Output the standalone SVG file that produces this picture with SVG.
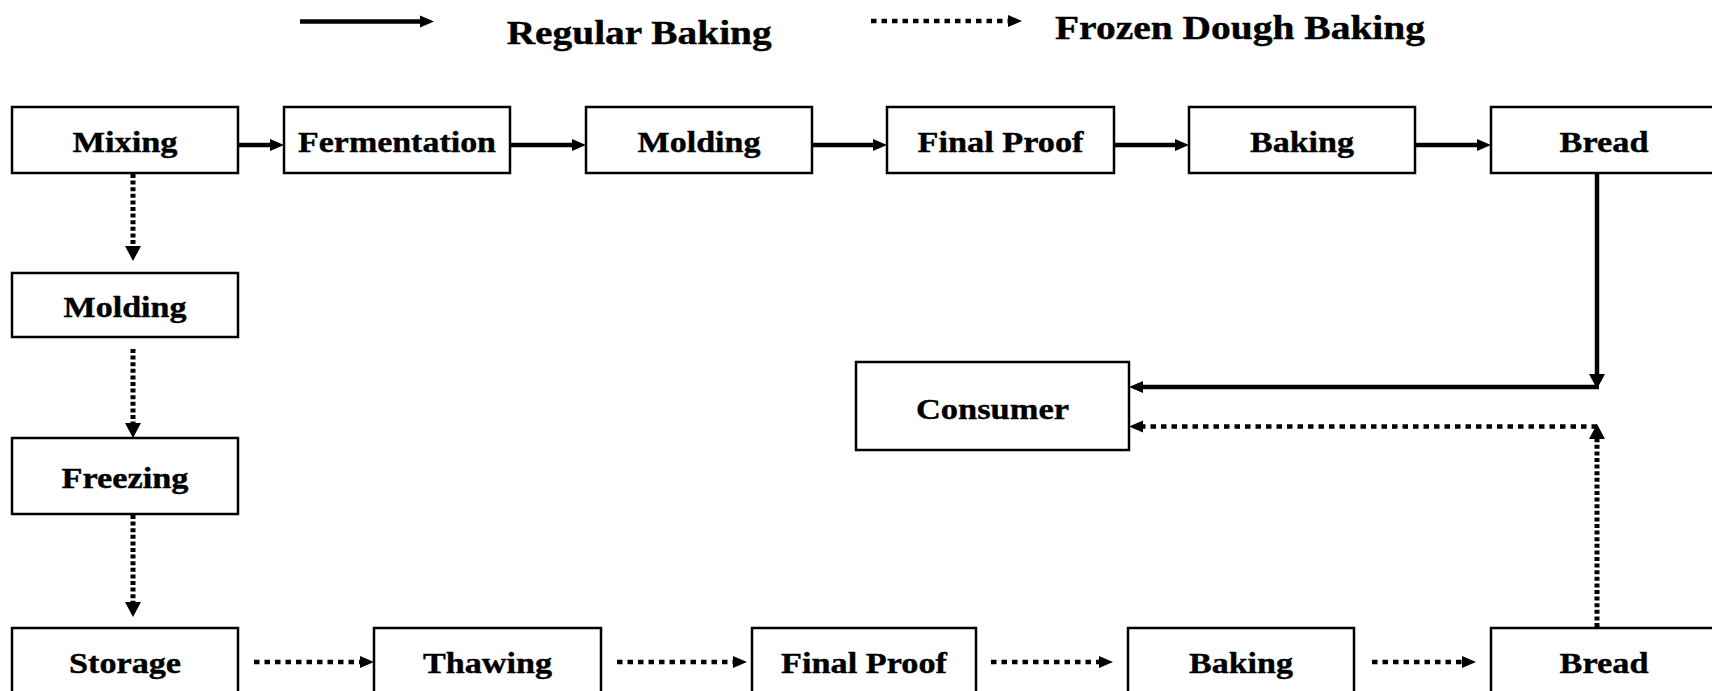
<svg xmlns="http://www.w3.org/2000/svg" width="1712" height="691" viewBox="0 0 1712 691">
  <defs>
    <style>
      .box { fill: #ffffff; stroke: #000000; stroke-width: 2.5; }
      .lbl { font-family: "Liberation Serif", "Times New Roman", serif; font-weight: bold; font-size: 30px; fill: #000000; stroke: #000000; stroke-width: 0.4; text-anchor: middle; }
      .leg { font-family: "Liberation Serif", "Times New Roman", serif; font-weight: bold; font-size: 33px; fill: #000000; stroke: #000000; stroke-width: 0.4; }
      .solid { fill: none; stroke: #000000; stroke-width: 4.5; }
      .doth { fill: none; stroke: #000000; stroke-width: 4.5; stroke-dasharray: 5.5 5; }
      .dotv { fill: none; stroke: #000000; stroke-width: 5; stroke-dasharray: 4 2.6; }
    </style>
    <marker id="ah" markerUnits="userSpaceOnUse" viewBox="0 -9 16 18" markerWidth="16" markerHeight="18" refX="0" refY="0" orient="auto">
      <path d="M0,-6 L14,0 L0,6 z" fill="#000000"/>
    </marker>
    <marker id="av" markerUnits="userSpaceOnUse" viewBox="0 -9 16 18" markerWidth="16" markerHeight="18" refX="0" refY="0" orient="auto">
      <path d="M0,-8 L15,0 L0,8 z" fill="#000000"/>
    </marker>
  </defs>

  <rect width="1712" height="691" fill="#ffffff"/>

  <!-- legend -->
  <g id="legend">
    <line class="solid" x1="300" y1="21.5" x2="420" y2="21.5" marker-end="url(#ah)"/>
    <text class="leg" x="506.7" y="43.5" textLength="265" lengthAdjust="spacingAndGlyphs">Regular Baking</text>
    <line class="doth" x1="871" y1="21" x2="1008" y2="21" marker-end="url(#ah)"/>
    <text class="leg" x="1055" y="39" textLength="370" lengthAdjust="spacingAndGlyphs">Frozen Dough Baking</text>
  </g>

  <!-- connectors -->
  <g id="connectors">
    <!-- regular baking line -->
    <line class="solid" x1="238" y1="145" x2="270" y2="145" marker-end="url(#ah)"/>
    <line class="solid" x1="510" y1="145" x2="572" y2="145" marker-end="url(#ah)"/>
    <line class="solid" x1="812" y1="145" x2="873" y2="145" marker-end="url(#ah)"/>
    <line class="solid" x1="1114" y1="145" x2="1175" y2="145" marker-end="url(#ah)"/>
    <line class="solid" x1="1415" y1="145" x2="1477" y2="145" marker-end="url(#ah)"/>
    <line class="solid" x1="1597" y1="173" x2="1597" y2="374" marker-end="url(#av)"/>
    <line class="solid" x1="1599" y1="387" x2="1143" y2="387" marker-end="url(#ah)"/>

    <!-- frozen dough line -->
    <line class="dotv" x1="133" y1="174" x2="133" y2="246" marker-end="url(#av)"/>
    <line class="dotv" x1="133" y1="349" x2="133" y2="423" marker-end="url(#av)"/>
    <line class="dotv" x1="133" y1="515" x2="133" y2="602" marker-end="url(#av)"/>
    <line class="doth" x1="254" y1="662" x2="360" y2="662" marker-end="url(#ah)"/>
    <line class="doth" x1="617" y1="662" x2="733" y2="662" marker-end="url(#ah)"/>
    <line class="doth" x1="991" y1="662" x2="1099" y2="662" marker-end="url(#ah)"/>
    <line class="doth" x1="1372" y1="662" x2="1462" y2="662" marker-end="url(#ah)"/>
    <line class="dotv" x1="1597" y1="627" x2="1597" y2="439" marker-end="url(#av)"/>
    <line class="doth" x1="1597" y1="426.5" x2="1143" y2="426.5" marker-end="url(#ah)"/>
  </g>

  <!-- top row: regular baking -->
  <g id="mixing">
    <rect class="box" x="12" y="107" width="226" height="66"/>
    <text class="lbl" x="125" y="151.5" textLength="105" lengthAdjust="spacingAndGlyphs">Mixing</text>
  </g>
  <g id="fermentation">
    <rect class="box" x="284" y="107" width="226" height="66"/>
    <text class="lbl" x="397" y="151.5" textLength="198" lengthAdjust="spacingAndGlyphs">Fermentation</text>
  </g>
  <g id="molding-regular">
    <rect class="box" x="586" y="107" width="226" height="66"/>
    <text class="lbl" x="699" y="151.5" textLength="123" lengthAdjust="spacingAndGlyphs">Molding</text>
  </g>
  <g id="final-proof-regular">
    <rect class="box" x="887" y="107" width="227" height="66"/>
    <text class="lbl" x="1000.5" y="151.5" textLength="166" lengthAdjust="spacingAndGlyphs">Final Proof</text>
  </g>
  <g id="baking-regular">
    <rect class="box" x="1189" y="107" width="226" height="66"/>
    <text class="lbl" x="1302" y="151.5" textLength="104" lengthAdjust="spacingAndGlyphs">Baking</text>
  </g>
  <g id="bread-regular">
    <rect class="box" x="1491" y="107" width="226" height="66"/>
    <text class="lbl" x="1604" y="151.5" textLength="89" lengthAdjust="spacingAndGlyphs">Bread</text>
  </g>

  <!-- left column: frozen dough -->
  <g id="molding-frozen">
    <rect class="box" x="12" y="273" width="226" height="64"/>
    <text class="lbl" x="125" y="316.5" textLength="123" lengthAdjust="spacingAndGlyphs">Molding</text>
  </g>
  <g id="freezing">
    <rect class="box" x="12" y="438" width="226" height="76"/>
    <text class="lbl" x="125" y="487.5" textLength="127" lengthAdjust="spacingAndGlyphs">Freezing</text>
  </g>

  <!-- consumer -->
  <g id="consumer">
    <rect class="box" x="856" y="362" width="273" height="88"/>
    <text class="lbl" x="992.5" y="418.5" textLength="153" lengthAdjust="spacingAndGlyphs">Consumer</text>
  </g>

  <!-- bottom row: frozen dough -->
  <g id="storage">
    <rect class="box" x="12" y="628" width="226" height="70"/>
    <text class="lbl" x="125" y="672.5" textLength="112" lengthAdjust="spacingAndGlyphs">Storage</text>
  </g>
  <g id="thawing">
    <rect class="box" x="374" y="628" width="227" height="70"/>
    <text class="lbl" x="487.5" y="672.5" textLength="129" lengthAdjust="spacingAndGlyphs">Thawing</text>
  </g>
  <g id="final-proof-frozen">
    <rect class="box" x="752" y="628" width="224" height="70"/>
    <text class="lbl" x="864" y="672.5" textLength="166" lengthAdjust="spacingAndGlyphs">Final Proof</text>
  </g>
  <g id="baking-frozen">
    <rect class="box" x="1128" y="628" width="226" height="70"/>
    <text class="lbl" x="1241" y="672.5" textLength="104" lengthAdjust="spacingAndGlyphs">Baking</text>
  </g>
  <g id="bread-frozen">
    <rect class="box" x="1491" y="628" width="226" height="70"/>
    <text class="lbl" x="1604" y="672.5" textLength="89" lengthAdjust="spacingAndGlyphs">Bread</text>
  </g>
</svg>
